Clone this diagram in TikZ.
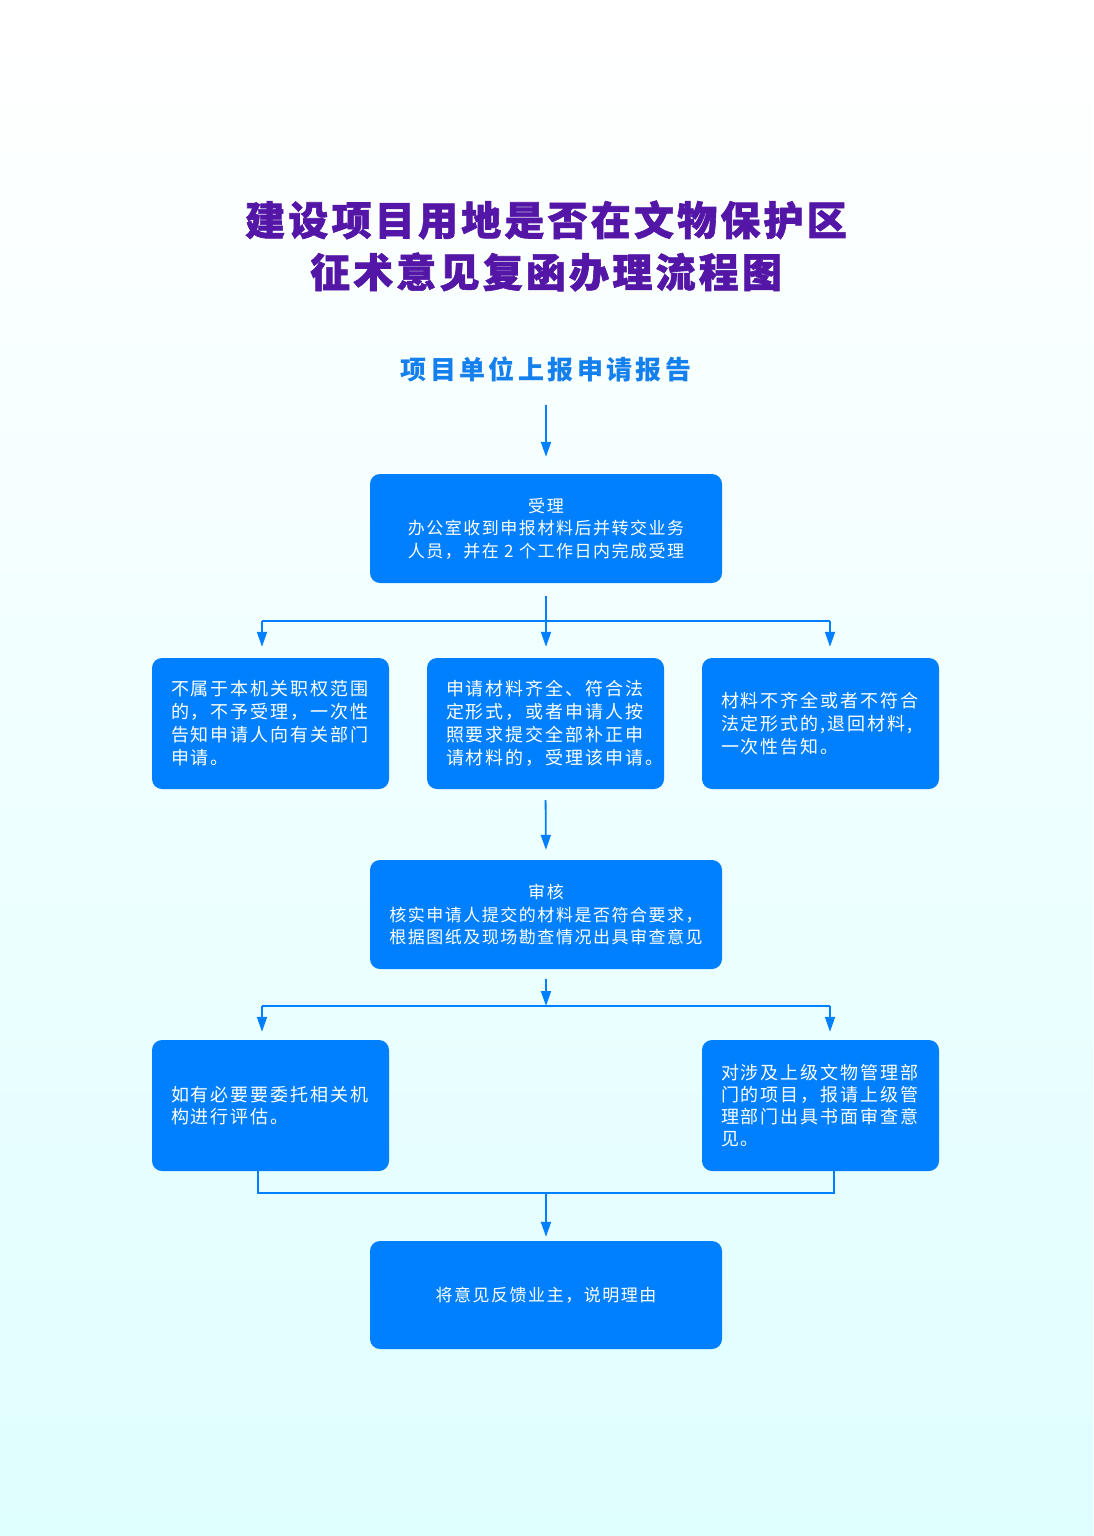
\documentclass[tikz,border=0pt]{standalone}
\usepackage{fontspec}
\setmainfont{Noto Sans CJK SC}
\newfontfamily\cjktitle[LetterSpace=8,BoldFeatures={FakeBold=1.5}]{Noto Sans CJK SC}
\newfontfamily\cjkhead[LetterSpace=13]{Noto Sans CJK SC}
\newfontfamily\cjkbox[LetterSpace=9]{Noto Sans CJK SC}
\newfontfamily\cjkside[LetterSpace=11]{Noto Sans CJK SC}
\usetikzlibrary{arrows.meta}

\definecolor{BoxBlue}{RGB}{0,128,255}
\definecolor{TitlePurple}{RGB}{84,22,166}
\definecolor{HeadBlue}{RGB}{20,128,238}
\definecolor{BgCyan}{RGB}{212,254,254}
\pgfdeclareverticalshading{bgshade}{100bp}{color(0bp)=(BgCyan); color(8bp)=(BgCyan); color(74bp)=(white); color(100bp)=(white)}

\newcommand\boxfont{\cjkbox\fontsize{17}{22.5}\selectfont}
\newcommand\sidefont{\cjkside\fontsize{18}{23}\selectfont}

\tikzset{
    box/.style={fill=BoxBlue, rounded corners=10pt, text=white, inner sep=0pt,
        minimum width=352pt, minimum height=109pt, align=center, font=\boxfont},
    sidebox/.style={box, minimum width=237pt, minimum height=131pt,
        text width=199pt, inner xsep=19pt, align=left, font=\sidefont},
    link/.style={BoxBlue, line width=1.8pt},
    flow/.style={link, -{Triangle[width=10pt,length=15pt]}},
}

\begin{document}
\begin{tikzpicture}[x=1pt,y=-1pt]
    \useasboundingbox (0,0) rectangle (1093,1536);
    \shade[shading=bgshade] (0,0) rectangle (1093,1536);

    % title and start
    \node[TitlePurple, align=center, font={\cjktitle\bfseries\fontsize{40}{52}\selectfont}] (title) at (546,246)
        {建设项目用地是否在文物保护区\\征术意见复函办理流程图};
    \node[HeadBlue, font={\cjkhead\bfseries\fontsize{26}{30}\selectfont}] (apply) at (546,369) {项目单位上报申请报告};

    % boxes
    \node[box] (accept) at (546,528.5) {受理\\办公室收到申报材料后并转交业务\\人员，并在 2 个工作日内完成受理};
    \node[sidebox] (reject) at (270.5,723.5) {不属于本机关职权范围\\的，不予受理，一次性\\告知申请人向有关部门\\申请。};
    \node[sidebox] (fix) at (545.5,723.5) {申请材料齐全、符合法\\定形式，或者申请人按\\照要求提交全部补正申\\请材料的，受理该申请。};
    \node[sidebox] (back) at (820.5,723.5) {材料不齐全或者不符合\\法定形式的,退回材料,\\一次性告知。};
    \node[box] (review) at (546,914.5) {审核\\核实申请人提交的材料是否符合要求，\\根据图纸及现场勘查情况出具审查意见};
    \node[sidebox, font={\cjkside\fontsize{18}{22}\selectfont}] (entrust) at (270.5,1105.5) {如有必要要委托相关机\\构进行评估。};
    \node[sidebox, font={\cjkside\fontsize{18}{22}\selectfont}] (superior) at (820.5,1105.5) {对涉及上级文物管理部\\门的项目，报请上级管\\理部门出具书面审查意\\见。};
    \node[box, minimum height=108pt] (reply) at (546,1295) {将意见反馈业主，说明理由};

    % connectors
    \coordinate (split) at (546,621);
    \coordinate (splitL) at (262,621);
    \coordinate (splitR) at (830,621);
    \coordinate (fork) at (546,1006);
    \coordinate (forkL) at (262,1006);
    \coordinate (forkR) at (830,1006);
    \coordinate (merge) at (546,1193);
    \coordinate (mergeL) at (258,1193);
    \coordinate (mergeR) at (834,1193);

    \draw[flow, shorten <=36pt, shorten >=17pt] (apply.center) -- (accept.north);
    \draw[link] ([yshift=-13pt]accept.south) -- (split);
    \draw[link] (splitL) -- (splitR);
    \draw[flow, shorten >=11pt] (splitL) -- (splitL |- reject.north);
    \draw[flow, shorten >=11pt] (split) -- (split |- fix.north);
    \draw[flow, shorten >=11pt] (splitR) -- (splitR |- back.north);
    \draw[flow, shorten <=11pt, shorten >=10pt] (fix.south) -- (review.north);
    \draw[flow] ([yshift=-10pt]review.south) -- (fork);
    \draw[link] (forkL) -- (forkR);
    \draw[flow, shorten >=8pt] (forkL) -- (forkL |- entrust.north);
    \draw[flow, shorten >=8pt] (forkR) -- (forkR |- superior.north);
    \draw[link] (mergeL |- entrust.south) -- (mergeL) -- (mergeR) -- (mergeR |- superior.south);
    \draw[flow, shorten >=4pt] (merge) -- (reply.north);
\end{tikzpicture}
\end{document}
